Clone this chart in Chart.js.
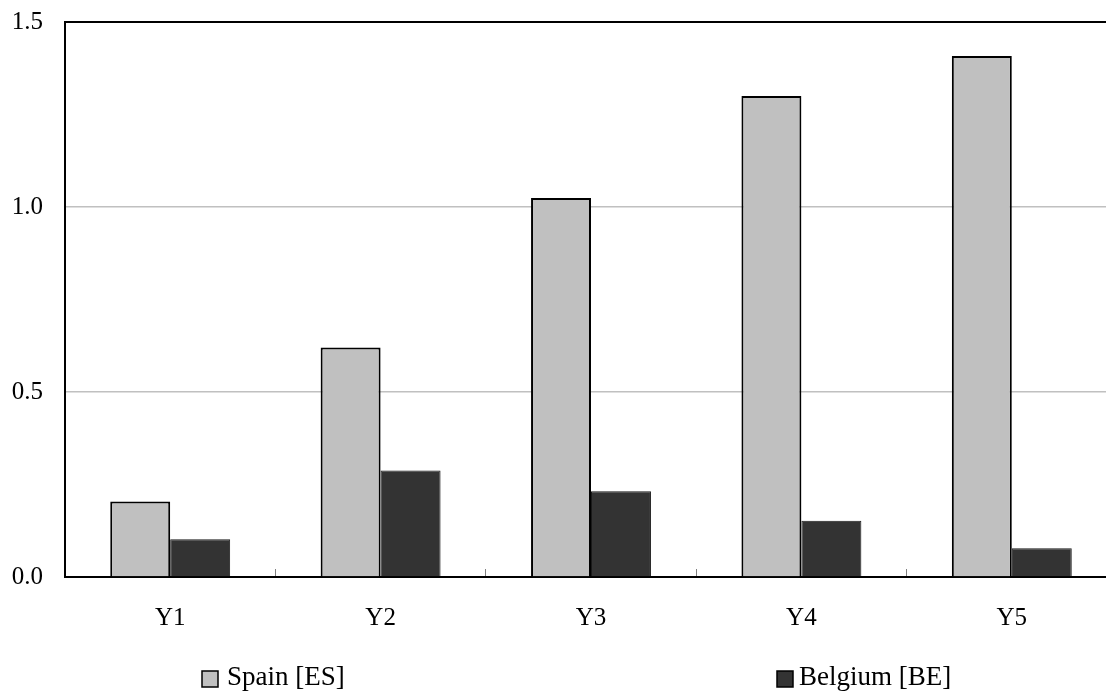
<!DOCTYPE html>
<html>
<head>
<meta charset="utf-8">
<script src="https://cdn.jsdelivr.net/npm/chart.js@4.4.1/dist/chart.umd.min.js"></script>
<style>
  html, body { margin: 0; padding: 0; background: #fff; overflow: hidden; }
  #wrap { position: relative; width: 1117px; height: 695px; }
</style>
</head>
<body>
<div id="wrap"><canvas id="barChart"></canvas></div>
<script>
const YEARS = ["Y1", "Y2", "Y3", "Y4", "Y5"];
const SPAIN = [0.204, 0.62, 1.024, 1.30, 1.408];
const BELGIUM = [0.102, 0.288, 0.232, 0.152, 0.078];
const Y_TICKS = [0, 0.5, 1.0, 1.5];

const FONT = "'Liberation Serif', 'Times New Roman', serif";

// legend drawn by hand: the original has the two entries spread far apart
const spreadLegend = {
    id: 'spreadLegend',
    afterDraw(chart) {
        const ctx = chart.ctx;
        const xs = [202, 777];
        const gaps = [25, 22];
        const y = 678;
        ctx.save();
        ctx.font = "27px " + FONT;
        ctx.textBaseline = 'middle';
        chart.data.datasets.forEach((ds, i) => {
            ctx.fillStyle = ds.backgroundColor;
            ctx.strokeStyle = '#000';
            ctx.lineWidth = 1.5;
            ctx.fillRect(xs[i], y - 7, 16, 16);
            ctx.strokeRect(xs[i], y - 7, 16, 16);
            ctx.fillStyle = '#000';
            ctx.fillText(ds.label, xs[i] + gaps[i], y);
        });
        ctx.restore();
    }
};

const CHART = document.getElementById("barChart");
let barChart = new Chart(CHART, {
    type: 'bar',
    data: {
        labels: YEARS,
        datasets: [
        {
            label: 'Spain [ES]',
            data: SPAIN,
            backgroundColor: '#c0c0c0',
            borderColor: '#000',
            borderWidth: 2,
            borderSkipped: 'bottom'
        },
        {
            label: 'Belgium [BE]',
            data: BELGIUM,
            backgroundColor: '#333333',
            borderColor: '#1a1a1a',
            borderWidth: 1,
            borderSkipped: 'bottom'
        }
        ]
    },
    options: {
        responsive: true,
        maintainAspectRatio: false,
        animation: false,
        categoryPercentage: 0.57,
        barPercentage: 1.0,
        layout: { padding: { top: 22, bottom: 68, left: 0, right: 0 } },
        plugins: {
            legend: { display: false },
            tooltip: { enabled: false }
        },
        scales: {
            x: {
                grid: {
                    offset: true,
                    drawOnChartArea: false,
                    drawTicks: true,
                    tickLength: -8,
                    color: '#808080',
                    lineWidth: 1
                },
                border: { color: '#000', width: 2 },
                ticks: {
                    color: '#000',
                    padding: 34,
                    font: { family: FONT, size: 25 }
                },
                afterFit(scale) { scale.height = 50; }
            },
            y: {
                min: 0,
                max: 1.5,
                afterBuildTicks(scale) {
                    scale.ticks = Y_TICKS.map(v => ({ value: v }));
                },
                grid: {
                    drawTicks: false,
                    color: ctx => (ctx.tick && ctx.tick.value === 1.5) ? '#000' : '#c0c0c0',
                    lineWidth: ctx => (ctx.tick && ctx.tick.value === 1.5) ? 2 : 1.5
                },
                border: { color: '#000', width: 2 },
                ticks: {
                    color: '#000',
                    padding: 22,
                    font: { family: FONT, size: 25 },
                    callback: v => Number(v).toFixed(1)
                },
                afterFit(scale) {
                    scale.width = 65;
                    scale.paddingTop = 0;
                    scale.paddingBottom = 0;
                }
            }
        }
    },
    plugins: [spreadLegend]
});
</script>
</body>
</html>
